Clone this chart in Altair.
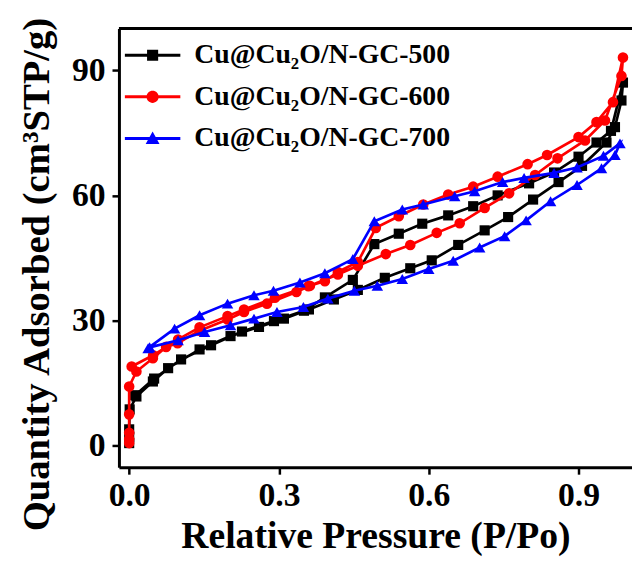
import altair as alt
import pandas as pd

names = ["Cu@Cu₂O/N-GC-500", "Cu@Cu₂O/N-GC-600", "Cu@Cu₂O/N-GC-700"]
colors = ["#000000", "#ff0000", "#0000ff"]
shapes = ["square", "circle", "triangle-up"]
sizes = [105, 115, 135]

# Cu@Cu2O/N-GC-500 : adsorption then desorption branch
p500_ads = [0.0, 0.0, 0.0, 0.001, 0.0145, 0.0475, 0.078, 0.141, 0.203, 0.26, 0.31, 0.36, 0.41, 0.458,
            0.512, 0.563, 0.606, 0.659, 0.712, 0.759, 0.809, 0.86, 0.907, 0.956, 0.973, 0.986, 0.989]
q500_ads = [0.5, 2.0, 3.8, 8.6, 11.7, 15.3, 18.5, 23.0, 26.2, 28.4, 30.4, 32.6, 35.0, 37.3,
            40.2, 42.5, 44.4, 48.1, 51.6, 54.8, 59.0, 63.2, 67.1, 72.7, 76.4, 82.8, 87.1]
p500_des = [0.965, 0.936, 0.900, 0.851, 0.801, 0.738, 0.689, 0.639, 0.587, 0.540, 0.491, 0.448,
            0.392, 0.35, 0.29, 0.226, 0.164, 0.104, 0.05, 0.012]
q500_des = [75.5, 72.7, 69.3, 65.5, 62.9, 60.0, 57.4, 55.2, 53.2, 50.8, 48.3, 39.7,
            35.5, 32.3, 29.8, 27.3, 24.0, 20.6, 16.0, 12.0]

# Cu@Cu2O/N-GC-600
p600_ads = [0.0, 0.0, 0.0, 0.0, 0.0, 0.0145, 0.0475, 0.074, 0.097, 0.141, 0.197, 0.23, 0.276, 0.335,
            0.362, 0.418, 0.458, 0.514, 0.563, 0.616, 0.662, 0.712, 0.761, 0.813, 0.858, 0.913,
            0.953, 0.986, 0.989]
q600_ads = [0.5, 1.5, 3.0, 7.4, 14.1, 17.7, 20.9, 23.6, 24.5, 27.5, 30.2, 32.0, 34.0, 36.8,
            38.3, 41.0, 43.1, 45.9, 48.1, 51.0, 53.3, 57.0, 60.5, 64.9, 68.9, 73.2,
            78.0, 88.7, 93.1]
p600_des = [0.969, 0.936, 0.900, 0.837, 0.798, 0.738, 0.689, 0.639, 0.589, 0.540, 0.494, 0.458,
            0.418, 0.392, 0.359, 0.292, 0.23, 0.197, 0.141, 0.098, 0.048, 0.005]
q600_des = [82.4, 77.6, 74.0, 69.7, 67.5, 64.5, 62.1, 60.2, 57.8, 55.0, 52.2, 44.0,
            41.6, 39.4, 38.2, 35.4, 32.6, 31.0, 28.3, 25.4, 21.6, 18.9]

# Cu@Cu2O/N-GC-700
p700_ads = [0.041, 0.098, 0.151, 0.203, 0.25, 0.296, 0.349, 0.398, 0.451, 0.497, 0.547, 0.6,
            0.649, 0.702, 0.752, 0.795, 0.844, 0.897, 0.946, 0.973, 0.983]
q700_ads = [23.5, 25.2, 27.2, 28.8, 30.4, 32.0, 33.2, 35.2, 37.1, 38.3, 39.9, 42.3,
            44.3, 47.5, 50.2, 54.0, 58.6, 62.5, 66.5, 69.7, 72.5]
p700_des = [0.95, 0.897, 0.851, 0.791, 0.748, 0.692, 0.652, 0.589, 0.547, 0.491, 0.448, 0.392,
            0.342, 0.289, 0.25, 0.197, 0.141, 0.091, 0.038]
q700_des = [69.5, 66.7, 65.4, 64.2, 63.2, 61.0, 59.8, 57.8, 56.6, 53.8, 44.7, 41.3,
            39.1, 37.1, 36.0, 34.0, 31.2, 28.0, 23.3]

x_ticks = [0.0, 0.3, 0.6, 0.9]
y_ticks = [0, 30, 60, 90]

branches = [
    (names[0], p500_ads + p500_des, q500_ads + q500_des),
    (names[1], p600_ads + p600_des, q600_ads + q600_des),
    (names[2], p700_ads + p700_des, q700_ads + q700_des),
]
rows = []
for name, ps, qs in branches:
    for i, (p, q) in enumerate(zip(ps, qs)):
        rows.append({"series": name, "step": i, "p": p, "q": q})
df = pd.DataFrame(rows)

FONT = "Liberation Serif"
W, H = 518, 443

xenc = alt.X("p:Q", scale=alt.Scale(domain=[-0.0205, 1.0071], nice=False, zero=False),
             axis=alt.Axis(values=x_ticks, format=".1f", title="Relative Pressure (P/Po)",
                           labelPadding=5, titlePadding=5, titleFontSize=38))
yenc = alt.Y("q:Q", scale=alt.Scale(domain=[-5.3, 100.1], nice=False, zero=False),
             axis=alt.Axis(values=y_ticks, format="d", title="Quantity Adsorbed (cm³STP/g)",
                           labelPadding=7, titleFontSize=39,
                           titleAngle=270, titleBaseline="alphabetic", titleAlign="center",
                           titleX=-71, titleY=248))

# legend symbols: a line with the marker on it
sq = "M-1,-0.055H1V0.055H-1Z M-0.2,-0.2H0.2V0.2H-0.2Z"
ci = "M-1,-0.055H1V0.055H-1Z M-0.22,0A0.22,0.22 0 1,1 0.22,0A0.22,0.22 0 1,1 -0.22,0Z"
tr = "M-1,-0.055H1V0.055H-1Z M0,-0.25L0.25,0.2L-0.25,0.2Z"

legend = alt.Legend(
    title=None, orient="none", legendX=6, legendY=-1,
    symbolSize=3136, symbolStrokeWidth=0, labelOffset=14, rowPadding=0, labelLimit=0,
    labelFont=FONT, labelFontWeight="bold", labelFontSize=28, labelColor="black",
)

layers = []
for i, name in enumerate(names):
    base = alt.Chart(df).transform_filter(alt.datum.series == name)
    line = base.mark_line(color=colors[i], strokeWidth=2.7).encode(
        x=xenc, y=yenc, order="step:Q")
    pts = base.mark_point(filled=True, shape=shapes[i], size=sizes[i], opacity=1,
                          color=colors[i]).encode(x=xenc, y=yenc)
    layers += [line, pts]

# legend-only layer (no rows drawn; the scales carry the explicit domain)
leg = alt.Chart(df).transform_filter("datum.q < -1000").mark_point(filled=True, opacity=1).encode(
    x=xenc, y=yenc,
    color=alt.Color("series:N", scale=alt.Scale(domain=names, range=colors), legend=legend),
    shape=alt.Shape("series:N", scale=alt.Scale(domain=names, range=[sq, ci, tr]), legend=legend),
)

top = alt.Chart(pd.DataFrame({"k": [0]})).mark_rule(color="black", strokeWidth=3).encode(
    x=alt.value(0), x2=alt.value(W), y=alt.value(0))

chart = alt.layer(*layers, leg, top).properties(
    width=W, height=H,
    autosize=alt.AutoSizeParams(type="none"),
    padding={"left": 112, "top": 18, "right": 0, "bottom": 92},
).configure_view(stroke=None).configure_axis(
    grid=False, domainColor="black", domainWidth=3, tickColor="black", tickWidth=2.5,
    tickSize=7, labelFont=FONT, labelFontWeight="bold", labelFontSize=34, labelColor="black",
    titleFont=FONT, titleFontWeight="bold", titleColor="black",
)

chart.save("out.html", embed_options={"renderer": "svg", "actions": False})
